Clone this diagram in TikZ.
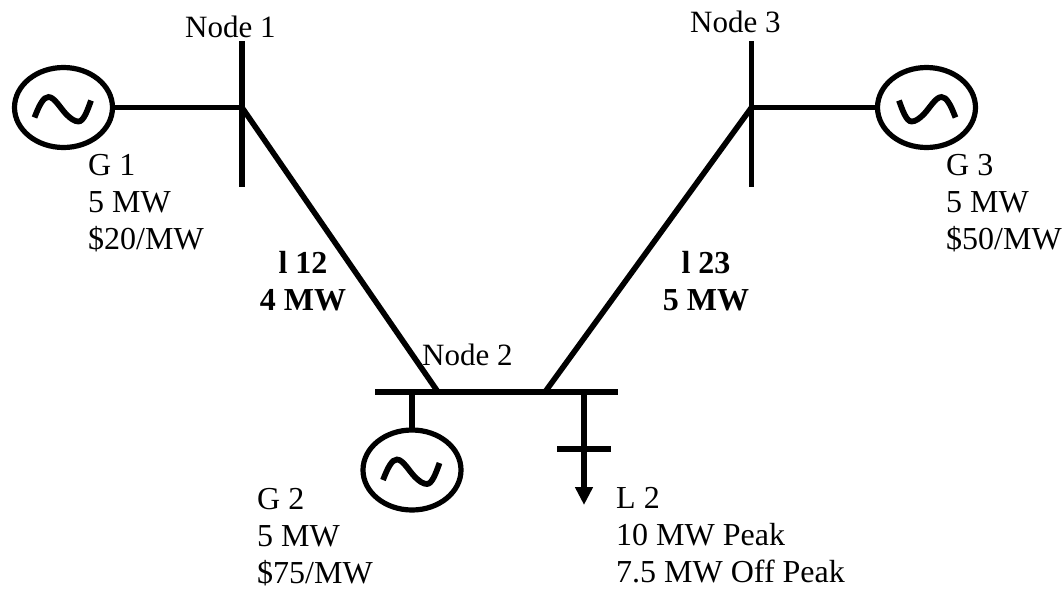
\documentclass[tikz,border=0pt]{standalone}
\usepackage{fontspec}
\setmainfont{Liberation Serif}
\usetikzlibrary{arrows.meta,shapes.geometric}
\newcommand{\genwave}{(-29,10) .. controls (-24,-3) and (-20,-10.5) .. (-15,-10.5) .. controls (-9,-10.5) and (-3,1) .. (3,7) .. controls (7,11) and (11,14) .. (15,14) .. controls (20,14) and (24,3) .. (27.5,-7)}
\tikzset{
  x=1pt,y=-1pt,
  wire/.style={line width=5.6pt,black},
  gen/.style={draw=black,line width=5.2pt,ellipse,minimum width=98pt,minimum height=80pt,inner sep=0pt,outer sep=0pt},
  wave/.style={line width=5.8pt,black},
  lbl/.style={font=\fontsize{32}{37}\selectfont,inner sep=0pt,align=left,anchor=north west,text=black},
  nlbl/.style={font=\fontsize{31}{37}\selectfont,inner sep=0pt,anchor=base west,text=black},
  blbl/.style={font=\fontsize{32}{37}\selectfont\bfseries,inner sep=0pt,align=center,anchor=north,text=black}
}
\begin{document}
\begin{tikzpicture}
\useasboundingbox[fill=white] (0,0) rectangle (1063,590);
% bus coordinates
\coordinate (b1t) at (242,41); \coordinate (b1m) at (242,107.5); \coordinate (b1b) at (242,187);
\coordinate (b3t) at (751.5,41); \coordinate (b3m) at (751.5,107.5); \coordinate (b3b) at (751.5,187);
\coordinate (b2l) at (375,392); \coordinate (b2r) at (618,392);
\coordinate (b2a) at (438,392); \coordinate (b2b) at (545,392);
\coordinate (b2g) at (412,392); \coordinate (b2d) at (584,392);
\coordinate (ldend) at (584,505);
\coordinate (ldl) at (557,449); \coordinate (ldr) at (611,449);
% generators
\node[gen] (g1) at (63.5,107.5) {};
\node[gen] (g2) at (412,470) {};
\node[gen] (g3) at (926.5,107.5) {};
% buses
\draw[wire] (b1t) -- (b1b);
\draw[wire] (b3t) -- (b3b);
\draw[wire] (b2l) -- (b2r);
% connectors
\draw[wire] (g1.east) -- (b1m);
\draw[wire] (g3.west) -- (b3m);
\draw[wire] (g2.north) -- (b2g);
\draw[wire] (b1m) -- (b2a);
\draw[wire] (b3m) -- (b2b);
\draw[wire,-{Triangle[length=18pt,width=17pt]}] (b2d) -- (ldend);
\draw[wire] (ldl) -- (ldr);
% waves
\draw[wave,shift={(g1.center)}] \genwave;
\draw[wave,shift={(g2.center)}] \genwave;
\draw[wave,shift={(g3.center)},xscale=-1] \genwave;
% labels
\node[nlbl] (n1) at (185,37.3) {Node 1};
\node[nlbl] (n3) at (690,32.3) {Node 3};
\node[nlbl] (n2) at (422,365) {Node 2};
\node[lbl] (t1) at (88,154) {G 1\\5 MW\\\$20/MW};
\node[lbl] (t3) at (946,154) {G 3\\5 MW\\\$50/MW};
\node[lbl] (t2) at (257,488) {G 2\\5 MW\\\$75/MW};
\node[lbl] (tl) at (616,487) {L 2\\10 MW Peak\\7.5 MW Off Peak};
\node[blbl] (l12) at (303,251) {l 12\\4 MW};
\node[blbl] (l23) at (706,251) {l 23\\5 MW};
\end{tikzpicture}
\end{document}
